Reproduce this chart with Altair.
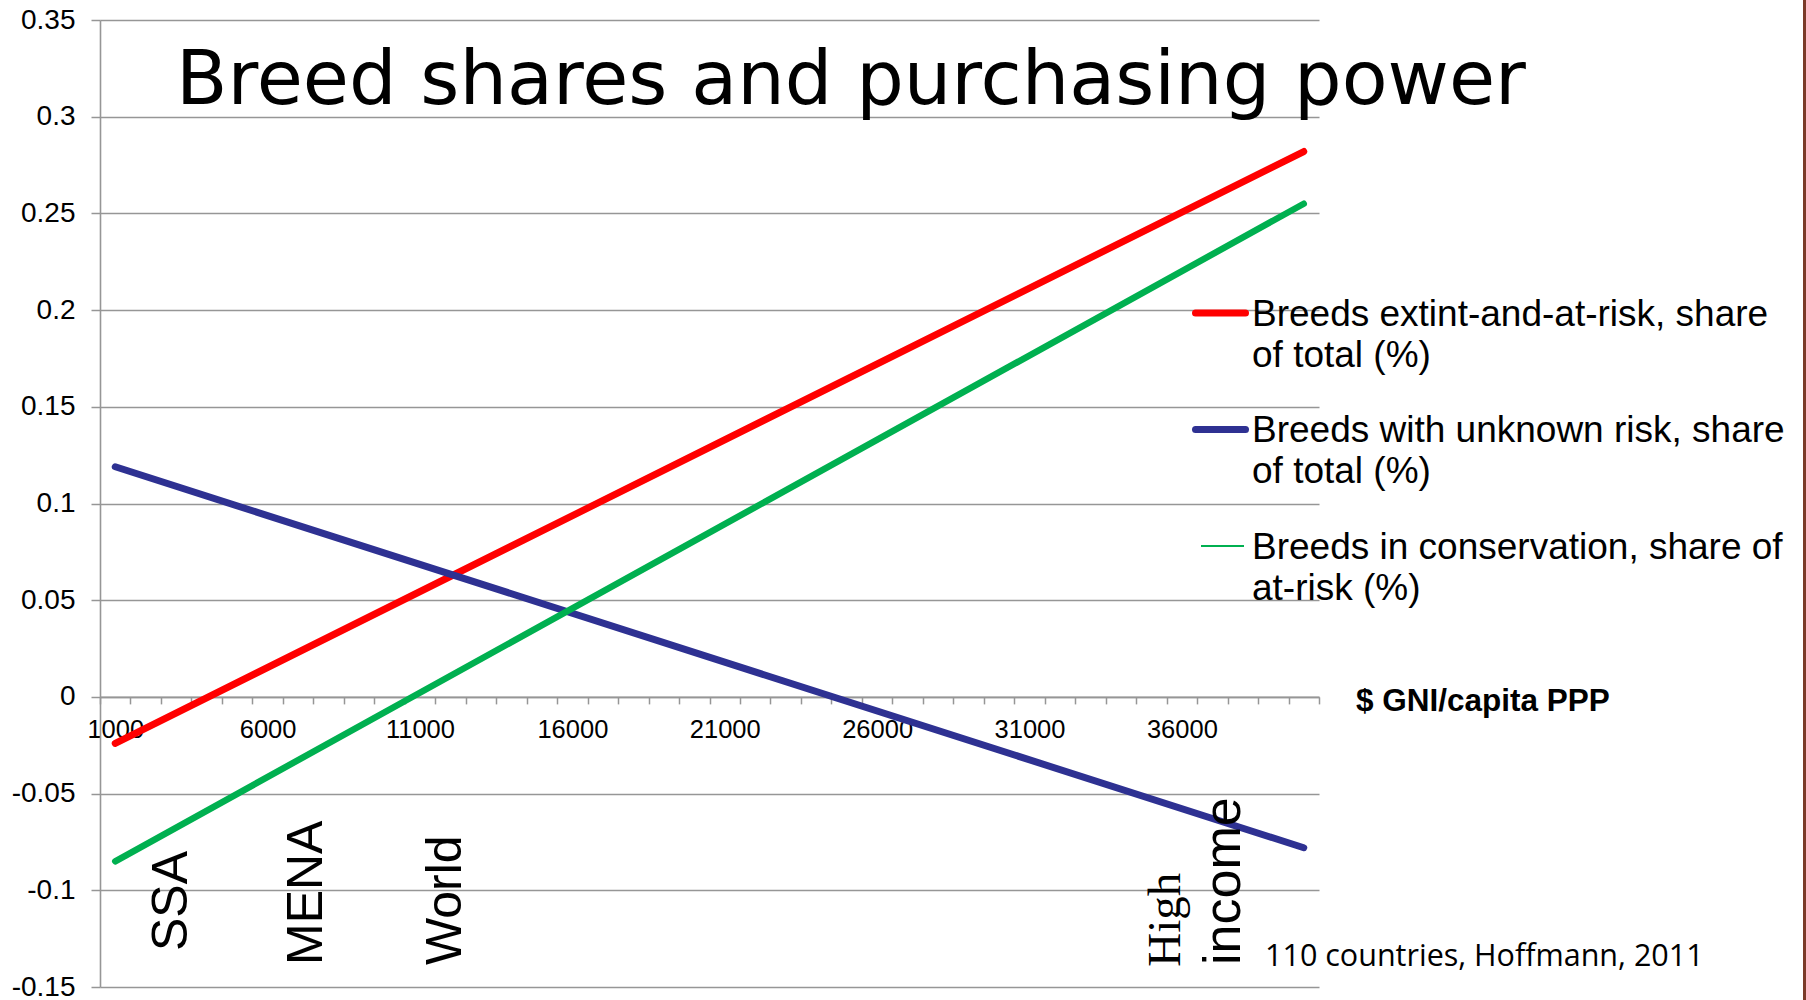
import altair as alt
import pandas as pd

# ---------------- values ----------------
gni_categories = list(range(1000, 41000, 1000))      # category slots on the x axis
y_ticks = [-0.15, -0.1, -0.05, 0, 0.05, 0.1, 0.15, 0.2, 0.25, 0.3, 0.35]

series_names = [
    "Breeds extint-and-at-risk, share of total (%)",
    "Breeds with unknown risk, share of total (%)",
    "Breeds in conservation, share of at-risk (%)",
]
trend_x = [1000, 40000]
extinct_at_risk = [-0.024, 0.282]
unknown_risk = [0.119, -0.078]
in_conservation = [-0.085, 0.255]

legend_lines = [
    ["Breeds extint-and-at-risk, share", "of total (%)"],
    ["Breeds with unknown risk, share", "of total (%)"],
    ["Breeds in conservation, share of", "at-risk (%)"],
]
title_text = ["Breed shares and purchasing power"]
axis_title = ["$ GNI/capita PPP"]
region_labels = ["SSA", "MENA", "World"]
high_income = ["High", "income"]
source_note = ["110 countries, Hoffmann, 2011"]

# ---------------- styling / layout ----------------
colors = ["#FF0000", "#2E3192", "#00B050"]
line_widths = [7, 7, 6.5]
legend_symbol_widths = [7, 7, 2]
GRAY = "#969696"
W, H = 1219, 967
LEFT, TOP = 100, 20

rows = []
for name, vals in zip(series_names, [extinct_at_risk, unknown_risk, in_conservation]):
    for xv, yv in zip(trend_x, vals):
        rows.append({"series": name, "gni": xv, "share": yv})
df = pd.DataFrame(rows)

x_enc = alt.X(
    "gni:O",
    title=None,
    scale=alt.Scale(type="band", domain=gni_categories, paddingInner=0, paddingOuter=0),
    axis=alt.Axis(
        orient="bottom",
        offset=-(H * 0.3),
        tickBand="extent",
        labelExpr="datum.value % 5000 == 1000 ? datum.label : ''",
        labelAngle=0,
        labelFont="Liberation Sans",
        labelFontSize=25.5,
        labelColor="black",
        labelPadding=14,
        labelOverlap=False,
        labelBound=False,
        labelFlush=False,
        tickSize=7,
        tickColor=GRAY,
        tickWidth=1.5,
        domainColor=GRAY,
        domainWidth=1.6,
        grid=False,
    ),
)
y_enc = alt.Y(
    "share:Q",
    title=None,
    scale=alt.Scale(domain=[-0.15, 0.35], nice=False, zero=False),
    axis=alt.Axis(
        values=y_ticks,
        labelExpr="'' + datum.value",
        labelFont="Liberation Sans",
        labelFontSize=28,
        labelColor="black",
        labelPadding=16,
        tickSize=9,
        tickColor=GRAY,
        tickWidth=1.5,
        domainColor=GRAY,
        domainWidth=1.6,
        grid=True,
        gridColor=GRAY,
        gridWidth=1.6,
    ),
)

layers = []
for name, c, w in zip(series_names, colors, line_widths):
    layers.append(
        alt.Chart(df)
        .transform_filter(alt.FieldEqualPredicate(field="series", equal=name))
        .mark_line(color=c, strokeWidth=w, strokeCap="round")
        .encode(x=x_enc, y=y_enc)
    )


def text_layer(values, x, y, size, font="Liberation Sans", angle=0, weight="normal",
               align="left", baseline="alphabetic", line_height=None):
    d = pd.DataFrame({"t": values})
    kw = dict(align=align, baseline=baseline, font=font, fontSize=size,
              fontWeight=weight, color="black")
    if angle:
        kw["angle"] = angle
    if line_height:
        kw["lineHeight"] = line_height
        kw["lineBreak"] = "\n"
    return alt.Chart(d).mark_text(**kw).encode(
        text="t:N", x=alt.value(x), y=alt.value(y)
    )


# legend (symbols + wrapped labels)
legend_sym_y = [293, 409.6, 526]
legend_sym_x = [(1095.5, 1145.5), (1095.5, 1145.5), (1101, 1144)]
legend_text_y = [305.5, 422, 538.5]
for i in range(3):
    sym = pd.DataFrame({"series": [series_names[i]]})
    layers.append(
        alt.Chart(sym).mark_rule(color=colors[i], strokeWidth=legend_symbol_widths[i],
                                 strokeCap="round" if legend_symbol_widths[i] > 3 else "butt")
        .encode(x=alt.value(legend_sym_x[i][0]), x2=alt.value(legend_sym_x[i][1]),
                y=alt.value(legend_sym_y[i]))
    )
    layers.append(text_layer(["\n".join(legend_lines[i])], 1152, legend_text_y[i], 37,
                             line_height=41))

# title and annotations
layers.append(text_layer(title_text, 76, 84, 75, font="DejaVu Sans"))
layers.append(text_layer(axis_title, 1256, 690.5, 31.5, weight="bold"))
for lab, (px, py) in zip(region_labels, [(87, 931), (222, 945), (361, 945)]):
    layers.append(text_layer([lab], px, py, 50, angle=270))
layers.append(text_layer([high_income[0]], 1080, 946.7, 47, font="Liberation Serif", angle=270))
layers.append(text_layer([high_income[1]], 1140, 945, 52, angle=270))
layers.append(text_layer(source_note, 1165, 946, 30.5, font="Open Sans"))

# slide border at the right edge
layers.append(
    alt.Chart(pd.DataFrame({"b": [0]})).mark_rule(color="#7b3a28", strokeWidth=3)
    .encode(x=alt.value(1704.5), y=alt.value(-20), y2=alt.value(980))
)

chart = (
    alt.layer(*layers)
    .properties(
        width=W,
        height=H,
        padding={"left": LEFT, "top": TOP, "right": 1806 - LEFT - W, "bottom": 1000 - TOP - H},
        autosize=alt.AutoSizeParams(type="none"),
        background="white",
    )
    .configure_view(stroke=None)
)

chart.save("out.html", embed_options={"renderer": "svg", "actions": False})
